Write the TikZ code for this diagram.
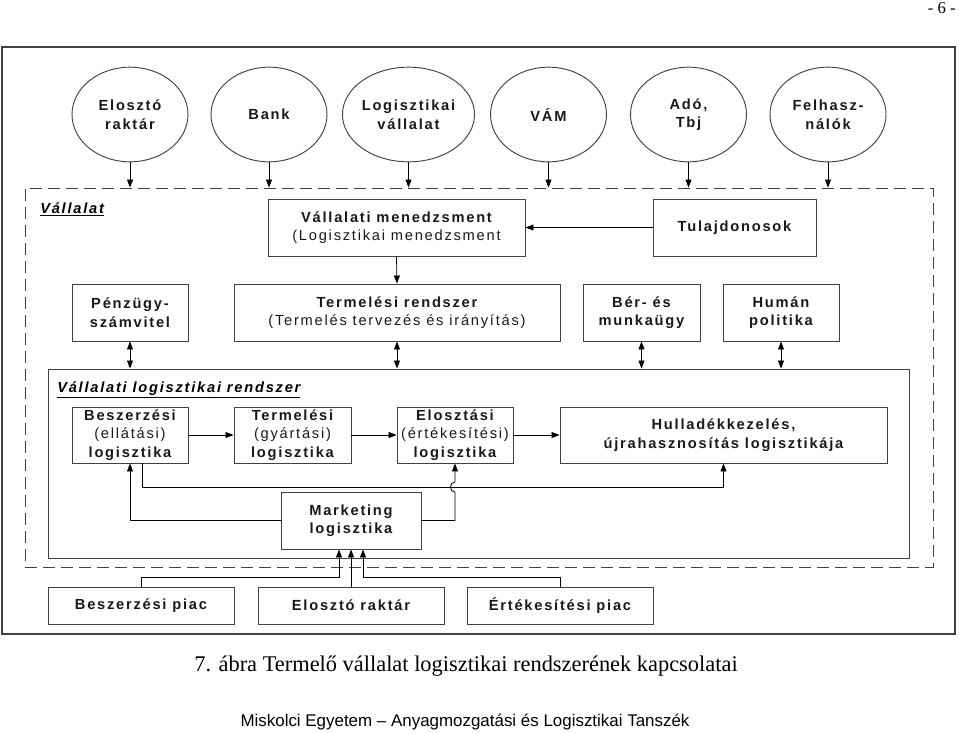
\documentclass[tikz,border=0pt]{standalone}
\usepackage{fontspec}
\setmainfont{Liberation Sans}
\newfontfamily\capfont{Liberation Serif}
\newfontfamily\diag[LetterSpace=12]{Liberation Sans}
\usetikzlibrary{shapes.geometric,arrows.meta}
\begin{document}
\begin{tikzpicture}[x=0.75pt,y=-0.75pt,
  txt/.style={font=\diag\fontsize{11}{13.9}\selectfont\bfseries, align=center, text=black!90},
  ell/.style={txt, draw=black!75, line width=0.7pt, ellipse, inner sep=0pt, minimum width=87pt, minimum height=71pt},
  bx/.style 2 args={txt, draw=black!75, line width=0.7pt, inner sep=0pt, minimum width=#1*0.75pt, minimum height=#2*0.75pt},
  frame/.style 2 args={draw=black!75, line width=0.8pt, inner sep=0pt, minimum width=#1*0.75pt, minimum height=#2*0.75pt},
  arr/.style={line width=0.6pt, -{Triangle[length=6pt,width=4.5pt]}},
  darr/.style={line width=0.6pt, {Triangle[length=6pt,width=4.5pt]}-{Triangle[length=6pt,width=4.5pt]}},
  ttl/.style={font=\diag\fontsize{11}{13}\selectfont\bfseries\itshape, inner sep=0pt, anchor=base west}
]
\useasboundingbox (0,0) rectangle (959,733);
% frames
\node[frame={953}{587}] (outer) at (478.5,340.5) {};
\node[frame={908}{379}, dash pattern=on 9pt off 4.5pt, line width=0.7pt] (dash) at (479,377.5) {};
\node[frame={861}{189}, line width=0.7pt] (lr) at (478.5,463.5) {};
% ellipses
\node[ell] (e1) at (130,114.5) {Elosztó\\raktár};
\node[ell] (e2) at (269,114.5) {Bank};
\node[ell] (e3) at (408.5,114.5) {Logisztikai\\vállalat};
\node[ell] (e4) at (548.5,114.5) {VÁM};
\node[ell] (e5) at (688.5,114.5) {Adó,\\Tbj};
\node[ell] (e6) at (828,114.5) {Felhasz-\\nálók};
\foreach \e in {e1,e2,e3,e4,e5,e6}{
  \draw[arr] (\e.south) -- (\e.south |- dash.north);
}
% titles
\node[ttl] (t1) at (40,213) {\underline{Vállalat}};
\node[ttl] (t2) at (57,392) {\underline{Vállalati logisztikai rendszer}};
% management row
\node[bx={257}{57}] (vm) at (396.5,227.5) {Vállalati menedzsment\\{\mdseries(Logisztikai menedzsment}};
\node[bx={163}{57}] (tul) at (734.5,227.5) {Tulajdonosok};
\draw[arr] (tul.west) -- (vm.east);
% row 2
\node[bx={116}{57}] (pz) at (130,312.5) {Pénzügy-\\számvitel};
\node[bx={326}{57}] (trs) at (397,312.5) {Termelési rendszer\\{\mdseries(Termelés tervezés és irányítás)}};
\node[bx={117}{57}] (ber) at (641.5,312.5) {Bér- és\\munkaügy};
\node[bx={116}{57}] (hum) at (781,312.5) {Humán\\politika};
\draw[arr] (vm.south) -- (trs.north);
\foreach \b in {pz,trs,ber,hum}{
  \draw[darr] (\b.south) -- (\b.south |- lr.north);
}
% row 3
\node[bx={116}{56}] (besz) at (130,435) {Beszerzési\\{\mdseries(ellátási)}\\logisztika};
\node[bx={117}{56}] (term) at (292.5,435) {Termelési\\{\mdseries(gyártási)}\\logisztika};
\node[bx={116}{56}] (elo) at (455,435) {Elosztási\\{\mdseries(értékesítési)}\\logisztika};
\node[bx={327}{56}] (hull) at (723.5,435) {Hulladékkezelés,\\újrahasznosítás logisztikája};
\draw[arr] (besz.east) -- (term.west);
\draw[arr] (term.east) -- (elo.west);
\draw[arr] (elo.east) -- (hull.west);
\coordinate (ya) at (0,487);
\draw[arr] ([xshift=9pt]besz.south) |- (hull.south |- ya) -- (hull.south);
% marketing
\node[bx={140}{57}] (mk) at (351,520.5) {Marketing\\logisztika};
\draw[arr] (mk.west) -| (besz.south);
\coordinate (hop1) at (455,492);
\coordinate (hop2) at (455,482);
\draw[arr] (mk.east) -| (hop1) .. controls (449,492) and (449,482) .. (hop2) -- (elo.south);
% bottom row
\node[bx={186}{37}] (bp) at (141,605.5) {Beszerzési piac};
\node[bx={186}{37}] (er) at (351,605.5) {Elosztó raktár};
\node[bx={186}{37}] (ep) at (560,605.5) {Értékesítési piac};
\coordinate (yb) at (0,577);
\coordinate (mkl) at ([xshift=-9pt]mk.south);
\coordinate (mkr) at ([xshift=9pt]mk.south);
\draw[arr] (bp.north) |- (mkl |- yb) -- (mkl);
\draw[arr] (er.north) -- (mk.south);
\draw[arr] (ep.north) |- (mkr |- yb) -- (mkr);
% page texts
\node[font=\capfont\fontsize{12.5}{14}\selectfont, anchor=base east, inner sep=0pt] (pg) at (956,13) {- 6 -};
\node[font=\capfont\fontsize{16.8}{19}\selectfont, anchor=base, inner sep=0pt] (cap) at (466,671) {7. ábra Termelő vállalat logisztikai rendszerének kapcsolatai};
\node[font=\fontsize{12.7}{15}\selectfont, anchor=base, inner sep=0pt] (foot) at (465,726) {Miskolci Egyetem – Anyagmozgatási és Logisztikai Tanszék};
\end{tikzpicture}
\end{document}
